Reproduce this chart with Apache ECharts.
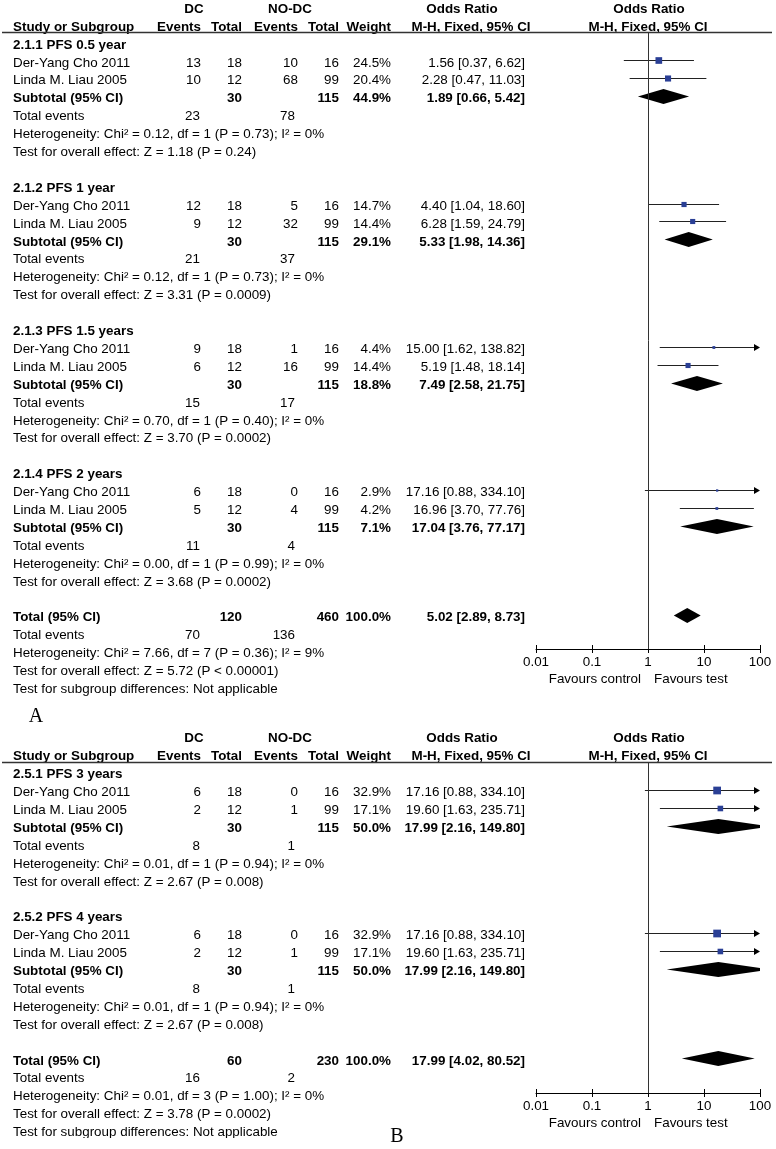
<!DOCTYPE html>
<html>
<head>
<meta charset="UTF-8">
<title>Forest plot</title>
<style>
  html, body { margin: 0; padding: 0; background: #fff; }
  #main { width: 776px; height: 1149px; }
</style>
</head>
<body>
<div id="main"></div>
<script src="https://cdn.jsdelivr.net/npm/echarts@6/dist/echarts.min.js"></script>
<script>
// ---------- data ----------
var studyNames = ['Der-Yang Cho 2011', 'Linda M. Liau 2005'];
var dcTotals = [18, 12];
var ndTotals = [16, 99];
var subTotalsN = [30, 115];
var tickLabels = ['0.01', '0.1', '1', '10', '100'];

// panel A
var groupsA = ['2.1.1 PFS 0.5 year', '2.1.2 PFS 1 year', '2.1.3 PFS 1.5 years', '2.1.4 PFS 2 years'];
var dcEventsA = [[13, 10], [12, 9], [9, 6], [6, 5]];
var ndEventsA = [[10, 68], [5, 32], [1, 16], [0, 4]];
var weightsA = [[24.5, 20.4], [14.7, 14.4], [4.4, 14.4], [2.9, 4.2]];
var orA = [
  [[1.56, 0.37, 6.62], [2.28, 0.47, 11.03]],
  [[4.40, 1.04, 18.60], [6.28, 1.59, 24.79]],
  [[15.00, 1.62, 138.82], [5.19, 1.48, 18.14]],
  [[17.16, 0.88, 334.10], [16.96, 3.70, 77.76]]
];
var subWeightA = [44.9, 29.1, 18.8, 7.1];
var subOrA = [[1.89, 0.66, 5.42], [5.33, 1.98, 14.36], [7.49, 2.58, 21.75], [17.04, 3.76, 77.17]];
var subEventsA = [[23, 78], [21, 37], [15, 17], [11, 4]];
var hetA = ['Chi² = 0.12, df = 1 (P = 0.73); I² = 0%', 'Chi² = 0.12, df = 1 (P = 0.73); I² = 0%',
            'Chi² = 0.70, df = 1 (P = 0.40); I² = 0%', 'Chi² = 0.00, df = 1 (P = 0.99); I² = 0%'];
var zA = ['Z = 1.18 (P = 0.24)', 'Z = 3.31 (P = 0.0009)', 'Z = 3.70 (P = 0.0002)', 'Z = 3.68 (P = 0.0002)'];
var totalNA = [120, 460];
var totalOrA = [5.02, 2.89, 8.73];
var totalEventsA = [70, 136];
var totalHetA = 'Chi² = 7.66, df = 7 (P = 0.36); I² = 9%';
var totalZA = 'Z = 5.72 (P < 0.00001)';

// panel B
var groupsB = ['2.5.1 PFS 3 years', '2.5.2 PFS 4 years'];
var dcEventsB = [[6, 2], [6, 2]];
var ndEventsB = [[0, 1], [0, 1]];
var weightsB = [[32.9, 17.1], [32.9, 17.1]];
var orB = [
  [[17.16, 0.88, 334.10], [19.60, 1.63, 235.71]],
  [[17.16, 0.88, 334.10], [19.60, 1.63, 235.71]]
];
var subWeightB = [50.0, 50.0];
var subOrB = [[17.99, 2.16, 149.80], [17.99, 2.16, 149.80]];
var subEventsB = [[8, 1], [8, 1]];
var hetB = ['Chi² = 0.01, df = 1 (P = 0.94); I² = 0%', 'Chi² = 0.01, df = 1 (P = 0.94); I² = 0%'];
var zB = ['Z = 2.67 (P = 0.008)', 'Z = 2.67 (P = 0.008)'];
var totalNB = [60, 230];
var totalOrB = [17.99, 4.02, 80.52];
var totalEventsB = [16, 2];
var totalHetB = 'Chi² = 0.01, df = 3 (P = 1.00); I² = 0%';
var totalZB = 'Z = 3.78 (P = 0.0002)';

// ---------- layout ----------
var FONT = '"Liberation Sans", Arial, Helvetica, sans-serif';
var FS = '13.4px ';
var PITCH = 17.9;
var COL = { label: 13, dcEv: 201, dcTot: 242, ndEv: 298, ndTot: 339, weight: 391, or: 525,
            teDc: 200, teNd: 295 };
var PLOT = { left: 536, width: 224 };
var PANEL_A = { top: 32, bottom: 649, first: 45 };
var PANEL_B = { top: 762, bottom: 1093, first: 774.5 };

function fmtOr(o) {
  return o[0].toFixed(2) + ' [' + o[1].toFixed(2) + ', ' + o[2].toFixed(2) + ']';
}
function fmtW(w) { return w.toFixed(1) + '%'; }

function buildPanel(p) {
  var rows = [], marks = [];
  // header
  rows.push({ r: -2, cells: [[194, 'DC', 'center', 1], [290, 'NO-DC', 'center', 1],
    [462, 'Odds Ratio', 'center', 1], [649, 'Odds Ratio', 'center', 1]] });
  rows.push({ r: -1, cells: [[COL.label, 'Study or Subgroup', 'left', 1], [COL.dcEv, 'Events', 'right', 1],
    [COL.dcTot, 'Total', 'right', 1], [COL.ndEv, 'Events', 'right', 1], [COL.ndTot, 'Total', 'right', 1],
    [COL.weight, 'Weight', 'right', 1], [471, 'M-H, Fixed, 95% CI', 'center', 1],
    [648, 'M-H, Fixed, 95% CI', 'center', 1]] });
  var r = 0;
  p.groups.forEach(function (g, gi) {
    rows.push({ r: r++, cells: [[COL.label, g, 'left', 1]] });
    studyNames.forEach(function (name, si) {
      var o = p.or[gi][si];
      rows.push({ r: r, cells: [[COL.label, name, 'left', 0],
        [COL.dcEv, String(p.dcEv[gi][si]), 'right', 0], [COL.dcTot, String(dcTotals[si]), 'right', 0],
        [COL.ndEv, String(p.ndEv[gi][si]), 'right', 0], [COL.ndTot, String(ndTotals[si]), 'right', 0],
        [COL.weight, fmtW(p.w[gi][si]), 'right', 0], [COL.or, fmtOr(o), 'right', 0]] });
      marks.push([o[0], r, o[1], o[2], p.w[gi][si], 0]);
      r++;
    });
    var so = p.subOr[gi];
    rows.push({ r: r, cells: [[COL.label, 'Subtotal (95% CI)', 'left', 1],
      [COL.dcTot, String(subTotalsN[0]), 'right', 1], [COL.ndTot, String(subTotalsN[1]), 'right', 1],
      [COL.weight, fmtW(p.subW[gi]), 'right', 1], [COL.or, fmtOr(so), 'right', 1]] });
    marks.push([so[0], r, so[1], so[2], p.subW[gi], 1]);
    r++;
    rows.push({ r: r++, cells: [[COL.label, 'Total events', 'left', 0],
      [COL.teDc, String(p.subEv[gi][0]), 'right', 0], [COL.teNd, String(p.subEv[gi][1]), 'right', 0]] });
    rows.push({ r: r++, cells: [[COL.label, 'Heterogeneity: ' + p.het[gi], 'left', 0]] });
    rows.push({ r: r++, cells: [[COL.label, 'Test for overall effect: ' + p.z[gi], 'left', 0]] });
    r++;
  });
  rows.push({ r: r, cells: [[COL.label, 'Total (95% CI)', 'left', 1],
    [COL.dcTot, String(p.totN[0]), 'right', 1], [COL.ndTot, String(p.totN[1]), 'right', 1],
    [COL.weight, '100.0%', 'right', 1], [COL.or, fmtOr(p.totOr), 'right', 1]] });
  marks.push([p.totOr[0], r, p.totOr[1], p.totOr[2], 100, 1]);
  r++;
  rows.push({ r: r++, cells: [[COL.label, 'Total events', 'left', 0],
    [COL.teDc, String(p.totEv[0]), 'right', 0], [COL.teNd, String(p.totEv[1]), 'right', 0]] });
  rows.push({ r: r++, cells: [[COL.label, 'Heterogeneity: ' + p.totHet, 'left', 0]] });
  rows.push({ r: r++, cells: [[COL.label, 'Test for overall effect: ' + p.totZ, 'left', 0]] });
  rows.push({ r: r++, cells: [[COL.label, 'Test for subgroup differences: Not applicable', 'left', 0]] });
  return { rows: rows, marks: marks };
}

var A = buildPanel({ groups: groupsA, dcEv: dcEventsA, ndEv: ndEventsA, w: weightsA, or: orA,
  subW: subWeightA, subOr: subOrA, subEv: subEventsA, het: hetA, z: zA,
  totN: totalNA, totOr: totalOrA, totEv: totalEventsA, totHet: totalHetA, totZ: totalZA });
var B = buildPanel({ groups: groupsB, dcEv: dcEventsB, ndEv: ndEventsB, w: weightsB, or: orB,
  subW: subWeightB, subOr: subOrB, subEv: subEventsB, het: hetB, z: zB,
  totN: totalNB, totOr: totalOrB, totEv: totalEventsB, totHet: totalHetB, totZ: totalZB });

function textRenderer(rows) {
  return function (params, api) {
    var row = rows[params.dataIndex];
    var y = api.coord([1, row.r])[1];
    return {
      type: 'group',
      children: row.cells.map(function (c) {
        return {
          type: 'text', x: c[0], y: y,
          style: { text: c[1], align: c[2], textAlign: c[2], verticalAlign: 'middle',
            textVerticalAlign: 'middle', font: (c[3] ? 'bold ' : '') + FS + FONT, fill: '#000' }
        };
      })
    };
  };
}

function renderMarks(params, api) {
  var est = api.value(0), r = api.value(1), lo = api.value(2), hi = api.value(3);
  var w = api.value(4), kind = api.value(5);
  var cs = params.coordSys;
  var xL = cs.x, xR = cs.x + cs.width;
  var y = Math.round(api.coord([est, r])[1] - 2.5) + 0.5;
  var px = function (v) { return api.coord([v, r])[0]; };
  var xe = px(est);
  if (kind === 1) {
    var h = 7.5;
    return { type: 'polygon', shape: { points: [[px(lo), y], [xe, y - h], [px(hi), y], [xe, y + h]] },
      style: { fill: '#000' } };
  }
  var children = [];
  var x1 = lo < 0.01 ? xL + 5 : px(lo);
  var x2 = hi > 100 ? xR - 5 : px(hi);
  children.push({ type: 'line', shape: { x1: x1, y1: y, x2: x2, y2: y }, style: { stroke: '#222', lineWidth: 1 } });
  if (hi > 100) {
    children.push({ type: 'polygon', shape: { points: [[xR, y], [xR - 6, y - 3.5], [xR - 6, y + 3.5]] },
      style: { fill: '#000' } });
  }
  if (lo < 0.01) {
    children.push({ type: 'polygon', shape: { points: [[xL, y], [xL + 6, y - 3.5], [xL + 6, y + 3.5]] },
      style: { fill: '#000' } });
  }
  var s = 13.5 * Math.sqrt(w / 100);
  children.push({ type: 'rect', shape: { x: xe - s / 2, y: y - s / 2, width: s, height: s },
    style: { fill: '#2a3f95' } });
  return { type: 'group', children: children };
}

function yRange(pn) {
  var min = (pn.top - pn.first) / PITCH;
  return [min, min + (pn.bottom - pn.top) / PITCH];
}

function mainX(gi) {
  return {
    type: 'log', logBase: 10, min: 0.01, max: 100, gridIndex: gi, position: 'bottom',
    axisLine: { onZero: false, lineStyle: { color: '#000', width: 1 } },
    axisTick: { length: 4, lineStyle: { color: '#000' } },
    axisLabel: { margin: 7, interval: 0, color: '#000', fontSize: 13.4, fontFamily: FONT,
      formatter: function (v) { return tickLabels[Math.round(Math.log10(v)) + 2]; } },
    splitLine: { show: false }
  };
}
// thin helper grid sitting right above the axis: its bottom axis draws the upper half of the crossing ticks
function tickX(gi) {
  return {
    type: 'log', logBase: 10, min: 0.01, max: 100, gridIndex: gi, position: 'bottom',
    axisLine: { show: false, onZero: false }, axisLabel: { show: false }, splitLine: { show: false },
    axisTick: { inside: true, length: 4, lineStyle: { color: '#000' } }
  };
}
function yAx(gi, pn) {
  var rg = yRange(pn);
  return { type: 'value', gridIndex: gi, inverse: true, min: rg[0], max: rg[1], show: false };
}
function helperY(gi) {
  return { type: 'value', gridIndex: gi, show: false, min: 0, max: 1 };
}

var nullLine = {
  silent: true, symbol: 'none', label: { show: false },
  lineStyle: { color: '#333', width: 1, type: 'solid' },
  data: [{ xAxis: 1 }]
};

function favours(y) {
  return [
    { type: 'text', x: 641, y: y, style: { text: 'Favours control', align: 'right', textAlign: 'right',
      verticalAlign: 'middle', font: FS + FONT, fill: '#000' } },
    { type: 'text', x: 654, y: y, style: { text: 'Favours test', align: 'left', textAlign: 'left',
      verticalAlign: 'middle', font: FS + FONT, fill: '#000' } }
  ];
}

var chart = echarts.init(document.getElementById('main'), null, { renderer: 'canvas' });
chart.setOption({
  animation: false,
  backgroundColor: '#fff',
  grid: [
    { left: PLOT.left, width: PLOT.width, top: PANEL_A.top, height: PANEL_A.bottom - PANEL_A.top },
    { left: PLOT.left, width: PLOT.width, top: PANEL_B.top, height: PANEL_B.bottom - PANEL_B.top },
    { left: PLOT.left, width: PLOT.width, top: PANEL_A.bottom - 4, height: 4 },
    { left: PLOT.left, width: PLOT.width, top: PANEL_B.bottom - 4, height: 4 }
  ],
  xAxis: [mainX(0), mainX(1), tickX(2), tickX(3)],
  yAxis: [yAx(0, PANEL_A), yAx(1, PANEL_B), helperY(2), helperY(3)],
  series: [
    { type: 'custom', xAxisIndex: 0, yAxisIndex: 0, renderItem: textRenderer(A.rows), silent: true,
      data: A.rows.map(function (rw) { return [1, rw.r]; }), z: 3 },
    { type: 'custom', xAxisIndex: 1, yAxisIndex: 1, renderItem: textRenderer(B.rows), silent: true,
      data: B.rows.map(function (rw) { return [1, rw.r]; }), z: 3 },
    { type: 'custom', xAxisIndex: 0, yAxisIndex: 0, renderItem: renderMarks, clip: true, silent: true,
      data: A.marks, z: 4 },
    { type: 'custom', xAxisIndex: 1, yAxisIndex: 1, renderItem: renderMarks, clip: true, silent: true,
      data: B.marks, z: 4 },
    { type: 'scatter', xAxisIndex: 0, yAxisIndex: 0, data: [], markLine: nullLine, z: 2 },
    { type: 'scatter', xAxisIndex: 1, yAxisIndex: 1, data: [], markLine: nullLine, z: 2 },
    { type: 'scatter', xAxisIndex: 2, yAxisIndex: 2, data: [] },
    { type: 'scatter', xAxisIndex: 3, yAxisIndex: 3, data: [] }
  ],
  graphic: [
    { type: 'line', shape: { x1: 2, y1: 32.5, x2: 772, y2: 32.5 }, style: { stroke: '#333', lineWidth: 1.3 }, z: 10 },
    { type: 'line', shape: { x1: 2, y1: 762.5, x2: 772, y2: 762.5 }, style: { stroke: '#333', lineWidth: 1.3 }, z: 10 },
    // bottom of the last text line is cut off in the source figure
    { type: 'rect', shape: { x: 0, y: 696, width: 520, height: 12 }, style: { fill: '#fff' }, z: 20 },
    { type: 'rect', shape: { x: 0, y: 1138, width: 330, height: 11 }, style: { fill: '#fff' }, z: 20 },
    { type: 'text', x: 36, y: 717, style: { text: 'A', align: 'center', textAlign: 'center', verticalAlign: 'middle',
      font: '20px "Liberation Serif", "DejaVu Serif", serif', fill: '#000' }, z: 21 },
    { type: 'text', x: 397, y: 1137, style: { text: 'B', align: 'center', textAlign: 'center', verticalAlign: 'middle',
      font: '20px "Liberation Serif", "DejaVu Serif", serif', fill: '#000' }, z: 21 }
  ].concat(favours(679), favours(1123))
});
</script>
</body>
</html>
